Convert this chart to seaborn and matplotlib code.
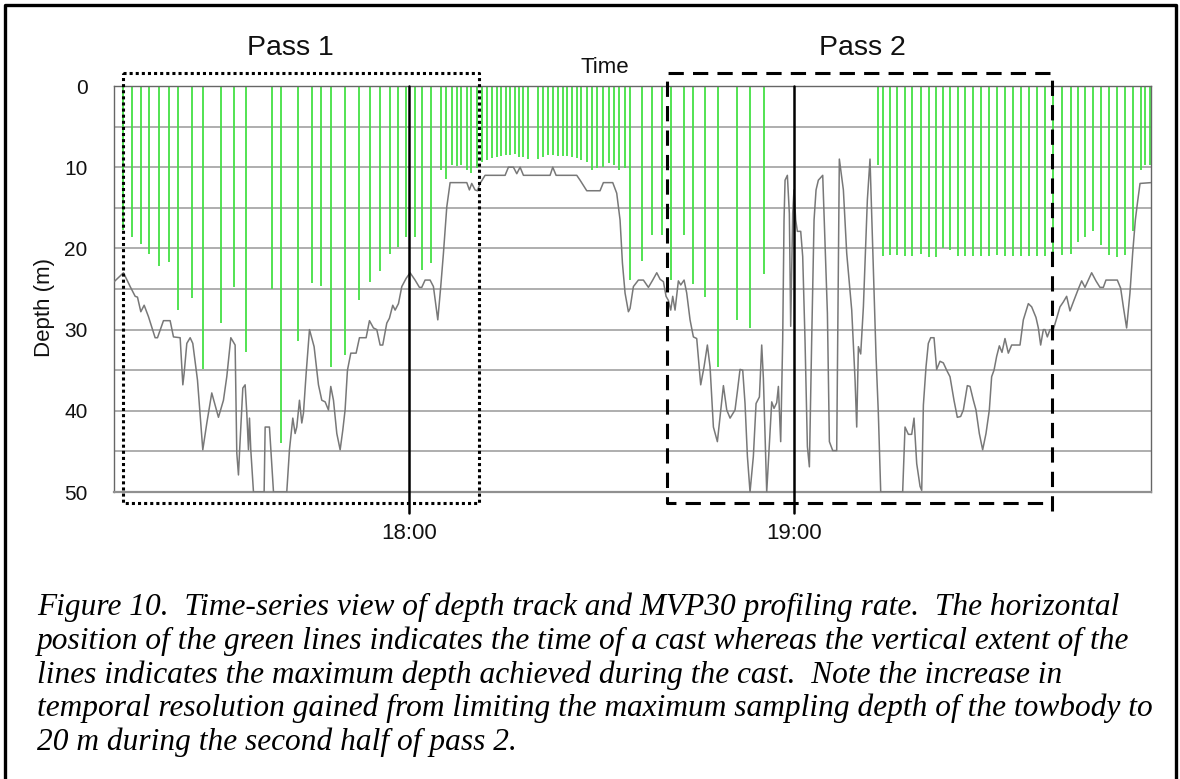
import matplotlib
matplotlib.use("Agg")
import matplotlib.pyplot as plt
from matplotlib.lines import Line2D
import seaborn as sns
import pandas as pd

# ---------------- data (time in minutes after 17:00, depth in m) ----------------
cast_time = [15.48, 16.83, 18.18, 19.53, 21.04, 22.54, 24.00, 26.13, 27.89, 30.65,
             32.72, 34.60, 38.60, 40.00, 42.75, 44.83, 46.28, 47.79, 50.08, 52.15,
             53.95, 55.43, 57.04, 58.34, 59.53, 60.88, 62.08, 63.37, 64.99, 65.76,
             66.70, 67.43, 68.15, 68.99, 69.71, 70.65, 71.38, 72.10, 72.93, 73.66,
             74.39, 75.12, 75.79, 76.47, 77.19, 77.82, 78.54, 80.15, 80.93, 81.71,
             82.44, 83.17, 83.95, 84.67, 85.40, 86.13, 86.86, 87.69, 88.52, 89.35,
             90.18, 91.12, 91.95, 92.78, 93.71, 94.44, 96.26, 97.87, 99.38, 100.88,
             102.86, 104.21, 106.13, 108.21, 111.06, 113.14, 115.32, 133.14, 133.92, 134.96,
             136.10, 137.25, 138.39, 139.74, 141.09, 142.08, 143.17, 144.31, 145.56, 146.60,
             147.95, 149.09, 150.34, 151.58, 152.83, 154.08, 155.32, 156.57, 157.82, 159.17,
             160.31, 161.71, 163.12, 164.31, 165.40, 166.65, 167.90, 169.04, 170.29, 171.64,
             172.88, 174.03, 174.75, 175.48]
cast_depth = [17.7, 18.6, 19.4, 20.7, 22.2, 21.7, 27.6, 26.1, 34.9, 29.2,
              24.8, 32.8, 25.0, 44.0, 31.4, 24.2, 24.6, 34.6, 33.1, 26.4,
              24.1, 22.8, 20.7, 19.8, 18.6, 18.6, 22.7, 21.8, 10.4, 11.4,
              9.7, 9.9, 9.7, 10.3, 10.7, 10.1, 9.4, 9.1, 8.9, 8.7,
              8.6, 8.5, 8.5, 8.4, 8.7, 8.8, 9.0, 9.0, 8.8, 8.5,
              8.5, 8.6, 8.6, 8.6, 8.7, 8.9, 9.1, 9.4, 10.3, 10.1,
              10.0, 9.5, 9.7, 10.3, 10.1, 23.9, 21.6, 18.4, 18.4, 23.9,
              18.4, 24.4, 26.0, 34.6, 28.8, 29.8, 23.1, 9.7, 20.9, 20.8,
              20.8, 20.9, 20.9, 20.7, 21.0, 21.0, 19.9, 20.2, 20.9, 20.9,
              20.9, 20.9, 20.9, 20.8, 20.9, 20.9, 20.9, 20.9, 20.9, 20.9,
              20.9, 20.8, 20.7, 19.2, 18.6, 17.8, 19.6, 20.8, 21.0, 20.8,
              17.8, 10.3, 9.7, 9.7]

track_time = [14.02, 15.48, 16.52, 17.30, 17.66, 18.18, 18.70, 19.37, 20.41, 20.78,
              21.71, 22.75, 23.27, 24.31, 24.73, 24.93, 25.35, 25.87, 26.28, 27.01,
              27.84, 28.47, 29.24, 30.28, 31.06, 31.58, 32.21, 32.88, 33.14, 33.40,
              33.56, 34.08, 34.44, 34.70, 34.96, 35.12, 35.32, 35.74, 37.40, 37.56,
              38.23, 38.86, 40.93, 41.35, 41.87, 42.23, 42.49, 42.91, 43.27, 43.53,
              43.95, 44.47, 45.19, 45.87, 46.39, 46.91, 47.43, 47.79, 48.21, 48.73,
              49.25, 49.66, 50.02, 50.39, 50.91, 51.74, 52.26, 53.30, 53.82, 54.44,
              54.96, 55.48, 55.89, 56.52, 56.93, 57.45, 57.82, 58.34, 58.86, 59.53,
              60.15, 60.93, 61.61, 61.97, 62.49, 63.27, 63.79, 64.47, 64.93, 65.35,
              65.87, 66.39, 68.99, 69.40, 69.76, 70.28, 70.65, 71.06, 71.84, 74.96,
              75.48, 76.26, 76.78, 77.30, 77.82, 81.97, 82.39, 82.91, 86.13, 86.65,
              87.69, 89.76, 90.28, 91.74, 92.36, 92.88, 93.25, 93.66, 94.18, 94.44,
              94.96, 95.74, 96.52, 97.30, 97.97, 98.60, 99.12, 99.64, 100.05, 100.41,
              100.78, 101.09, 101.45, 101.97, 102.34, 102.86, 103.27, 103.79, 104.31, 104.83,
              105.45, 105.97, 106.49, 106.91, 107.43, 108.05, 108.47, 108.99, 109.51, 110.03,
              110.80, 111.17, 111.58, 112.00, 112.36, 112.73, 113.14, 113.66, 114.08, 114.60,
              114.96, 115.22, 115.74, 116.16, 116.52, 116.88, 117.30, 117.56, 117.92, 118.23,
              118.44, 118.60, 118.96, 119.27, 119.48, 119.79, 119.99, 120.26, 120.52, 121.04,
              121.35, 121.71, 122.08, 122.39, 122.75, 123.12, 123.43, 123.79, 124.47, 124.67,
              125.20, 125.51, 126.03, 126.65, 127.06, 127.69, 128.21, 128.99, 129.51, 129.77,
              130.03, 130.39, 130.81, 131.43, 131.84, 132.26, 132.78, 133.14, 133.51, 136.93,
              137.30, 137.82, 138.34, 138.70, 139.12, 139.64, 139.90, 140.16, 140.57, 140.93,
              141.30, 141.82, 142.23, 142.75, 143.27, 143.79, 144.31, 144.93, 145.45, 145.97,
              146.39, 147.01, 147.43, 147.95, 148.36, 148.88, 149.40, 149.92, 150.44, 150.80,
              151.17, 151.58, 152.00, 152.41, 152.88, 153.40, 153.92, 155.22, 155.74, 156.52,
              157.04, 157.71, 158.08, 158.44, 158.86, 159.12, 159.48, 159.90, 160.41, 160.94,
              161.45, 161.97, 162.49, 163.01, 163.53, 164.31, 164.83, 165.35, 166.39, 167.06,
              167.69, 168.21, 168.62, 170.39, 170.91, 171.33, 171.84, 172.36, 172.78, 173.20,
              173.51, 173.93, 175.64]
track_depth = [24.1, 23.0, 24.7, 25.9, 26.0, 27.8, 27.0, 28.4, 31.0, 31.0,
               28.9, 28.9, 30.9, 31.0, 36.8, 35.4, 31.7, 31.0, 31.7, 36.2,
               44.8, 41.5, 37.8, 40.8, 38.7, 35.8, 31.0, 31.9, 45.2, 47.9,
               45.2, 37.2, 36.8, 40.3, 44.8, 40.9, 44.8, 50.0, 50.0, 42.0,
               42.0, 50.0, 50.0, 44.8, 40.9, 42.8, 42.0, 38.7, 41.5, 40.3,
               35.4, 30.0, 32.1, 36.8, 38.7, 38.9, 39.9, 37.0, 38.7, 42.8,
               44.8, 42.4, 39.9, 35.0, 32.9, 32.9, 31.0, 31.0, 28.9, 29.8,
               30.0, 31.9, 31.9, 29.2, 28.6, 27.0, 27.6, 26.8, 24.7, 23.7,
               23.0, 23.9, 24.8, 24.8, 23.9, 23.9, 24.7, 28.8, 24.7, 20.6,
               14.9, 11.9, 11.9, 12.8, 12.0, 12.8, 12.9, 12.0, 11.0, 11.0,
               10.0, 10.0, 10.8, 10.0, 11.0, 11.0, 10.0, 11.0, 11.0, 11.6,
               12.9, 12.9, 11.9, 11.9, 13.2, 16.5, 21.8, 25.5, 27.8, 27.4,
               24.7, 23.9, 23.9, 24.8, 23.9, 23.0, 23.8, 24.1, 25.9, 26.4,
               27.6, 25.9, 27.6, 24.0, 24.5, 23.9, 25.5, 28.8, 30.9, 31.1,
               36.8, 34.6, 31.9, 34.6, 42.0, 43.8, 40.7, 36.9, 39.9, 40.9,
               39.9, 37.6, 34.9, 35.0, 39.1, 45.6, 50.0, 45.6, 39.1, 38.3,
               31.9, 36.0, 50.0, 44.0, 38.9, 39.7, 39.0, 37.0, 43.8, 31.3,
               16.5, 11.6, 11.0, 15.7, 29.6, 15.7, 12.8, 16.5, 17.9, 17.9,
               21.0, 31.3, 44.4, 46.9, 31.3, 16.5, 12.8, 11.6, 11.0, 15.7,
               28.0, 43.8, 44.9, 44.9, 9.0, 12.8, 20.6, 27.6, 36.2, 42.0,
               32.1, 33.0, 27.2, 14.0, 9.0, 19.8, 33.3, 40.3, 50.0, 50.0,
               42.0, 42.9, 42.9, 40.9, 46.5, 49.3, 49.8, 39.3, 34.6, 31.7,
               31.0, 31.0, 34.9, 33.9, 34.1, 35.0, 35.8, 38.7, 40.8, 40.7,
               39.9, 36.9, 37.0, 38.7, 39.9, 42.8, 44.8, 42.8, 39.9, 35.8,
               35.0, 33.3, 32.0, 32.8, 31.1, 32.9, 31.9, 31.9, 28.8, 26.8,
               27.2, 28.5, 29.8, 31.9, 30.0, 30.0, 30.9, 30.0, 30.0, 28.6,
               27.2, 26.6, 25.9, 27.7, 26.6, 25.0, 24.0, 24.8, 23.0, 24.0,
               24.8, 24.8, 23.9, 23.9, 24.9, 27.2, 29.8, 25.5, 20.6, 16.5,
               14.5, 12.0, 11.9]

hour_ticks = [60, 120]
hour_labels = ["18:00", "19:00"]
depth_ticks = [0, 10, 20, 30, 40, 50]
depth_grid = [5, 15, 25, 35, 45]
pass_names = ["Pass 1", "Pass 2"]

caption_lines = [
    "Figure 10.  Time-series view of depth track and MVP30 profiling rate.  The horizontal",
    "position of the green lines indicates the time of a cast whereas the vertical extent of the",
    "lines indicates the maximum depth achieved during the cast.  Note the increase in",
    "temporal resolution gained from limiting the maximum sampling depth of the towbody to",
    "20 m during the second half of pass 2.",
]

# ---------------- figure ----------------
sns.set_theme(style="white")
plt.rcParams["font.family"] = ["Liberation Sans", "DejaVu Sans"]

W, H = 1180, 779
fig = plt.figure(figsize=(W / 100, H / 100), dpi=100)
fig.patch.set_facecolor("white")

ax_l, ax_r, ax_t, ax_b = 114, 1151, 86, 492
ax = fig.add_axes([ax_l / W, 1 - ax_b / H, (ax_r - ax_l) / W, (ax_b - ax_t) / H])
ax.set_facecolor("white")

track = pd.DataFrame({"time": track_time, "depth": track_depth})

# casts (green)
ax.vlines(cast_time, 0, cast_depth, color="#44e044", lw=1.3, zorder=2)
# depth track (grey)
sns.lineplot(data=track, x="time", y="depth", ax=ax, color="#787878", lw=1.1,
             estimator=None, sort=False, zorder=3)

ax.set_xlim(14.0, 175.64)
ax.set_ylim(50, 0)

ax.set_yticks(depth_ticks)
ax.set_yticks(depth_grid, minor=True)
ax.grid(axis="y", which="both", color="#a8a8a8", lw=1.3, zorder=1)
ax.grid(axis="x", visible=False)
ax.set_axisbelow(True)
ax.tick_params(axis="y", which="both", length=0, pad=19, labelsize=15, labelcolor="#111111")

ax.set_xticks(hour_ticks)
ax.set_xticklabels(hour_labels)
ax.tick_params(axis="x", length=0, pad=22, labelsize=16, labelcolor="#111111")
ax.set_xlabel("")
ax.set_ylabel("Depth (m)", fontsize=16, color="#111111")
ax.yaxis.set_label_coords(-0.057, 0.455)

for side, sp in ax.spines.items():
    sp.set_color("#666666")
    sp.set_linewidth(1.0)
ax.spines["bottom"].set_color("#909090")
ax.spines["bottom"].set_linewidth(1.6)

# hour marker lines
for t in hour_ticks:
    ax.axvline(t, ymin=-0.052, ymax=1.0, color="black", lw=1.8, clip_on=False, zorder=6)

ax.text(0.4735, 1.0455, "Time", transform=ax.transAxes, ha="center", va="center",
        fontsize=16, color="#111111")

# pass boxes
p1x = [15.43, 70.91, 70.91, 15.43, 15.43]
p1y = [-1.6, -1.6, 51.35, 51.35, -1.6]
ax.plot(p1x, p1y, color="black", lw=2.2, linestyle=(0, (1, 1)), clip_on=False, zorder=7)
p2x = [160.2, 160.2, 100.21, 100.21, 160.2]
p2y = [52.4, -1.6, -1.6, 51.35, 51.35]
ax.plot(p2x, p2y, color="black", lw=2.2, linestyle=(0, (5, 3)), clip_on=False, zorder=7)

fig.text(290 / W, 1 - 48 / H, pass_names[0], ha="center", va="center", fontsize=20.5, color="#111111")
fig.text(862 / W, 1 - 48 / H, pass_names[1], ha="center", va="center", fontsize=20.5, color="#111111")

# caption
for i, line in enumerate(caption_lines):
    fig.text(37 / W, 1 - (615 + 33.75 * i) / H, line, ha="left", va="baseline",
             fontsize=22.6, style="italic", family=["Liberation Serif", "DejaVu Serif"],
             color="black")

# outer frame (left, top, right)
fig.add_artist(Line2D([4.5 / W, 4.5 / W, 1175.5 / W, 1175.5 / W],
                      [0, 1 - 4.5 / H, 1 - 4.5 / H, 0],
                      transform=fig.transFigure, color="black", lw=2.4))

fig.savefig("out.png", dpi=100, facecolor="white")
